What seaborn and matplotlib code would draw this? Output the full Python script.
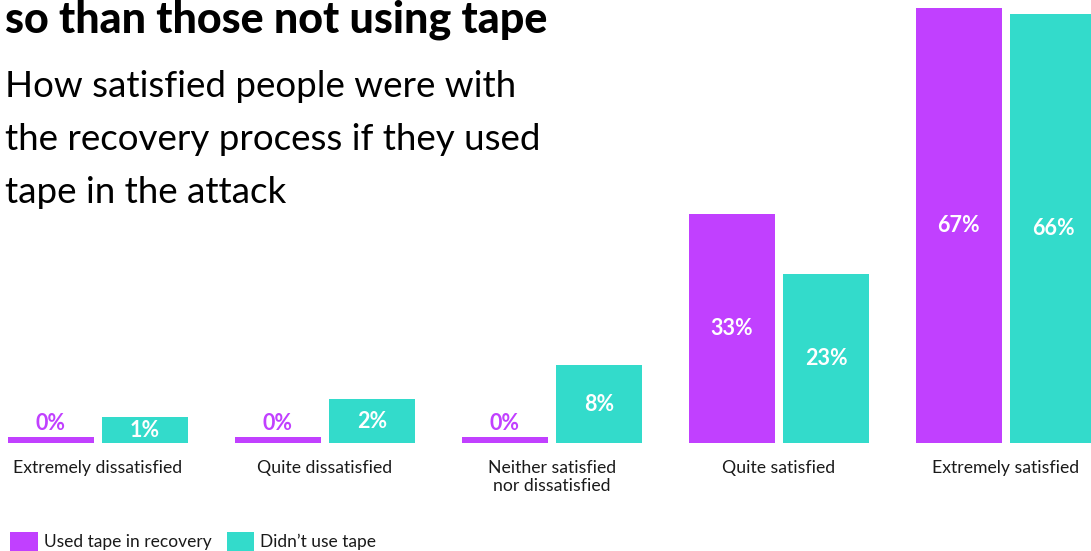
import numpy as np
import pandas as pd
import matplotlib
matplotlib.use("Agg")
import matplotlib.pyplot as plt
from matplotlib.patches import Patch
import seaborn as sns

# ---- data ----
categories = ["Extremely dissatisfied", "Quite dissatisfied",
              "Neither satisfied\nnor dissatisfied", "Quite satisfied",
              "Extremely satisfied"]
used_tape = [0, 0, 0, 33, 67]
no_tape = [1, 2, 8, 23, 66]
series_names = ["Used tape in recovery", "Didn\u2019t use tape"]

PURPLE = "#C140FF"
TEAL = "#33DBCB"
TEXT = "#1a1a1a"

df = pd.DataFrame({
    "category": categories * 2,
    "value": used_tape + no_tape,
    "group": [series_names[0]] * len(categories) + [series_names[1]] * len(categories),
})

sns.set_theme(style="white")
plt.rcParams["font.family"] = ["Lato", "DejaVu Sans"]

fig = plt.figure(figsize=(10.91, 5.51), dpi=100)
ax = fig.add_axes([0, 108 / 551, 1, 443 / 551])

sns.barplot(data=df, x="category", y="value", hue="group",
            palette=[PURPLE, TEAL], width=0.833, gap=0.09,
            legend=False, ax=ax, saturation=1, linewidth=0)

# scale: bars keep a minimum visible height near zero
knots_x = [-1, 0, 1, 2, 8, 100]
knots_y = [0, 1, 4.1, 7, 12.5, 102]
def fwd(v):
    return np.interp(v, knots_x, knots_y)
def inv(t):
    return np.interp(t, knots_y, knots_x)

bars = list(ax.patches)
vals = []
for p in bars:
    h = p.get_height()
    vals.append(h)
    p.set_y(-1)
    p.set_height(h + 1)

ax.set_yscale("function", functions=(fwd, inv))
ax.set_ylim(-1, 68.3)
ax.set_xlim(-0.431, 4.375)

for p, v in zip(bars, vals):
    xc = p.get_x() + p.get_width() / 2
    if v == 0:
        ax.annotate(f"{v:.0f}%", (xc, 0), xytext=(0, 2), textcoords="offset points",
                    ha="center", va="bottom", color=PURPLE, fontsize=15.5,
                    fontweight="bold")
    else:
        ym = inv((fwd(-1) + fwd(v)) / 2)
        ax.text(xc, ym, f"{v:.0f}%", ha="center", va="center", color="white",
                fontsize=15.5, fontweight="bold")

ax.set_xlabel("")
ax.set_ylabel("")
ax.set_yticks([])
ax.tick_params(axis="x", length=0, pad=12, labelsize=12.7, labelcolor=TEXT)
for s in ax.spines.values():
    s.set_visible(False)

# titles
fig.text(5 / 1091, 1 - 32 / 551, "so than those not using tape", fontsize=31,
         fontweight="black", color="black", ha="left", va="baseline")
sub_lines = ["How satisfied people were with",
             "the recovery process if they used",
             "tape in the attack"]
for i, line in enumerate(sub_lines):
    fig.text(5 / 1091, 1 - (97 + 53 * i) / 551, line, fontsize=26.5,
             color="black", ha="left", va="baseline")

handles = [Patch(facecolor=PURPLE, edgecolor="none"),
           Patch(facecolor=TEAL, edgecolor="none")]
fig.legend(handles, series_names, loc="lower left",
           bbox_to_anchor=(10 / 1091, 0.0), ncol=2, frameon=False,
           fontsize=12.5, handlelength=1.6, handleheight=1.32,
           handletextpad=0.35, columnspacing=0.86, borderpad=0,
           borderaxespad=0, labelcolor=TEXT)

fig.savefig("out.png", dpi=100)
